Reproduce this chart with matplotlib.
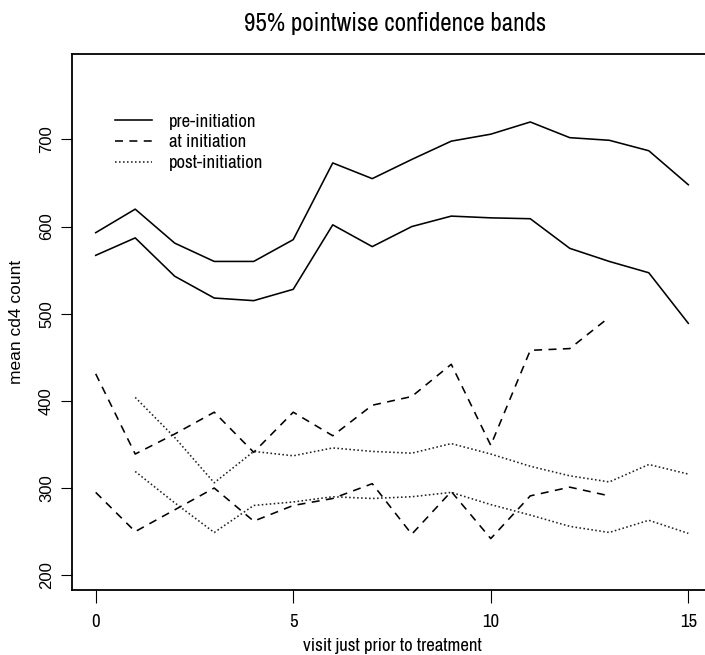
import matplotlib
matplotlib.use("Agg")
import matplotlib.pyplot as plt

# Data
visits = list(range(16))
pre_upper = [593, 620, 581, 560, 560, 585, 673, 655, 677, 698, 706, 720, 702, 699, 687, 648]
pre_lower = [567, 587, 543, 518, 515, 528, 602, 577, 600, 612, 610, 609, 575, 560, 547, 489]
at_visits = list(range(14))
at_upper = [431, 339, 362, 387, 341, 387, 360, 395, 405, 442, 349, 458, 460, 496]
at_lower = [295, 250, 275, 300, 262, 280, 288, 305, 247, 296, 242, 291, 301, 291]
post_visits = list(range(1, 16))
post_upper = [404, 358, 306, 342, 337, 346, 342, 340, 351, 339, 325, 314, 307, 327, 316]
post_lower = [319, 283, 249, 280, 284, 290, 288, 290, 295, 281, 269, 256, 249, 263, 248]
x_ticks = [0, 5, 10, 15]
y_ticks = [200, 300, 400, 500, 600, 700]
legend_labels = ["pre-initiation", "at initiation", "post-initiation"]

W, H = 705, 655
fig = plt.figure(figsize=(W / 100, H / 100), dpi=100)
L, R, T, B = 72, 712, 54, 590
ax = fig.add_axes([L / W, (H - B) / H, (R - L) / W, (B - T) / H])

narrow = ["Archivo Narrow", "Liberation Sans", "DejaVu Sans"]
wide = ["Liberation Sans", "DejaVu Sans"]

lw = 1.15
solid = dict(color="black", lw=lw, linestyle="-")
dashed = dict(color="black", lw=lw, linestyle=(0, (5, 4)))
dotted = dict(color="#222222", lw=lw, linestyle=(0, (1, 1.5)))

ax.plot(visits, pre_upper, **solid, label=legend_labels[0])
ax.plot(visits, pre_lower, **solid)
ax.plot(at_visits, at_upper, **dashed, label=legend_labels[1])
ax.plot(at_visits, at_lower, **dashed)
ax.plot(post_visits, post_upper, **dotted, label=legend_labels[2])
ax.plot(post_visits, post_lower, **dotted)

ax.set_xlim(-0.6, 15.6)
ax.set_ylim(183, 798)
ax.spines["right"].set_visible(False)
for s in ["left", "bottom", "top"]:
    ax.spines[s].set_linewidth(1.3)

ax.set_xticks(x_ticks)
ax.set_yticks(y_ticks)
ax.tick_params(axis="x", direction="out", length=9, width=0.8, pad=8)
ax.tick_params(axis="y", direction="out", length=8, width=0.8, pad=5)
for t in ax.get_xticklabels():
    t.set_fontfamily(narrow)
    t.set_fontsize(13.5)
for t in ax.get_yticklabels():
    t.set_fontfamily(wide)
    t.set_fontsize(12)
    t.set_rotation(90)
    t.set_va("center")

ax.set_xlabel("visit just prior to treatment", fontsize=13.5, family=narrow, labelpad=6)
ax.set_ylabel("mean cd4 count", fontsize=12.5, family=wide, labelpad=11)
fig.text((L + R) / 2 / W + 0.005, 1 - 31 / H, "95% pointwise confidence bands",
         ha="center", va="baseline", fontsize=18, family=narrow)

ax.legend(loc="upper left", bbox_to_anchor=((107 - L) / (R - L), (B - 106) / (B - T)),
          frameon=False, prop={"family": narrow, "size": 13.5},
          handlelength=2.0, handletextpad=0.9, labelspacing=0.25, borderaxespad=0)

fig.savefig("out.png", dpi=100)
